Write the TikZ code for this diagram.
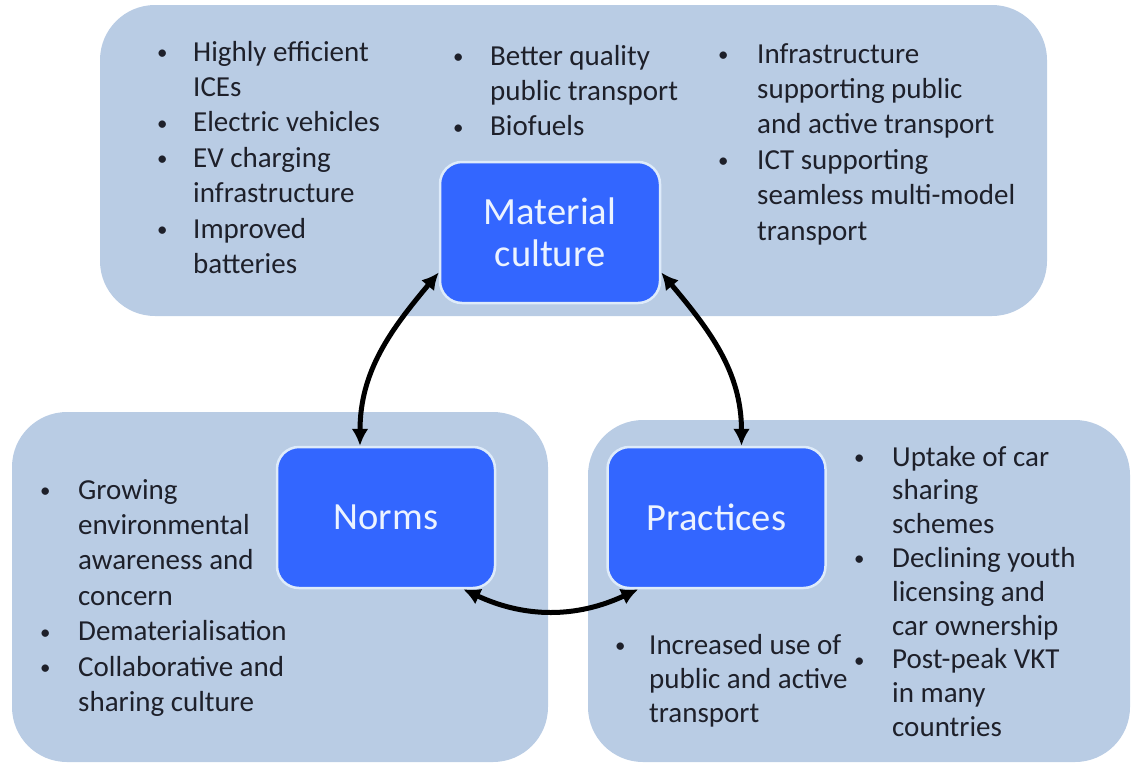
\documentclass[tikz,border=0pt]{standalone}
\usepackage{fontspec}
\setmainfont{Carlito}
\usepackage{tikz}
\usetikzlibrary{arrows.meta,positioning,calc}
\definecolor{zonefill}{RGB}{185,204,228}
\definecolor{corefill}{RGB}{51,102,255}
\definecolor{coreline}{RGB}{222,235,250}
\definecolor{coretext}{RGB}{236,243,255}
\definecolor{listtext}{RGB}{30,32,42}
\tikzset{
	>={Latex[width=17pt,length=17pt]},
	% Specifications for style of nodes:
	zone/.style = {rectangle, rounded corners=55pt,
	fill=zonefill, draw=none, inner sep=0pt},
	core/.style = {rectangle, rounded corners=22pt,
	minimum width=218pt, minimum height=141pt,
	fill=corefill, draw=coreline, line width=2.5pt,
	text=coretext, align=center, font=\fontsize{38.5}{42}\selectfont},
	blist/.style = {anchor=base west, inner sep=0pt,
	text=listtext, font=\fontsize{29}{35.4}\selectfont},
	link/.style = {line width=5pt, <->, black},
}
\newcommand{\bul}{\raisebox{1.5pt}{\scalebox{0.72}{\textbullet}}}

\begin{document}
\begin{tikzpicture}[x=1pt, y=1pt]
	\useasboundingbox (0,0) rectangle (1132,-764);
		% background panels
		\node (matzone)[zone, minimum width=947pt, minimum height=311pt] at (573.5,-160.5) {};
		\node (normzone)[zone, minimum width=536pt, minimum height=350pt] at (280,-587) {};
		\node (praczone)[zone, minimum width=542pt, minimum height=342pt] at (859,-591) {};
		% draw blocks
		\node (norms)[core] at (386,-517.5) {Norms};
		\node (practices)[core, right=110pt of norms] {Practices};
		\node (material)[core, minimum width=220pt] at (550,-232.5) {Material\\culture};
		% material culture items
		\node (matA)[blist] at (157,-61) {\begin{tabular}[t]{@{}p{36pt}@{}l@{}}
			\bul & Highly efficient\\
			     & ICEs\\
			\bul & Electric vehicles\\
			\bul & EV charging\\
			     & infrastructure\\
			\bul & Improved\\
			     & batteries
		\end{tabular}};
		\node (matB)[blist] at (453,-65) {\begin{tabular}[t]{@{}p{37pt}@{}l@{}}
			\bul & Better quality\\
			     & public transport\\
			\bul & Biofuels
		\end{tabular}};
		\node (matC)[blist] at (718,-63) {\begin{tabular}[t]{@{}p{39pt}@{}l@{}}
			\bul & Infrastructure\\
			     & supporting public\\
			     & and active transport\\
			\bul & ICT supporting\\
			     & seamless multi-model\\
			     & transport
		\end{tabular}};
		% norms items
		\node (normA)[blist] at (40,-499) {\begin{tabular}[t]{@{}p{38pt}@{}l@{}}
			\bul & Growing\\
			     & environmental\\
			     & awareness and\\
			     & concern\\
			\bul & Dematerialisation\\
			\bul & Collaborative and\\
			     & sharing culture
		\end{tabular}};
		% practices items
		\node (pracA)[blist, font=\fontsize{29}{34}\selectfont] at (615,-654) {\begin{tabular}[t]{@{}p{34pt}@{}l@{}}
			\bul & Increased use of\\
			     & public and active\\
			     & transport
		\end{tabular}};
		\node (pracB)[blist, font=\fontsize{29}{33.8}\selectfont] at (854,-466) {\begin{tabular}[t]{@{}p{38pt}@{}l@{}}
			\bul & Uptake of car\\
			     & sharing\\
			     & schemes\\
			\bul & Declining youth\\
			     & licensing and\\
			     & car ownership\\
			\bul & Post-peak VKT\\
			     & in many\\
			     & countries
		\end{tabular}};
		% draw arrows between nodes
		\draw[link]([yshift=-40pt]material.west) to[out=230, in=90] ([xshift=-26pt]norms.north);
		\draw[link]([yshift=-40pt]material.east) to[out=-50, in=90] ([xshift=25pt]practices.north);
		\draw[link]([xshift=-33pt]norms.south east) to[bend right=25] ([xshift=32pt]practices.south west);
	\end{tikzpicture}
\end{document}
